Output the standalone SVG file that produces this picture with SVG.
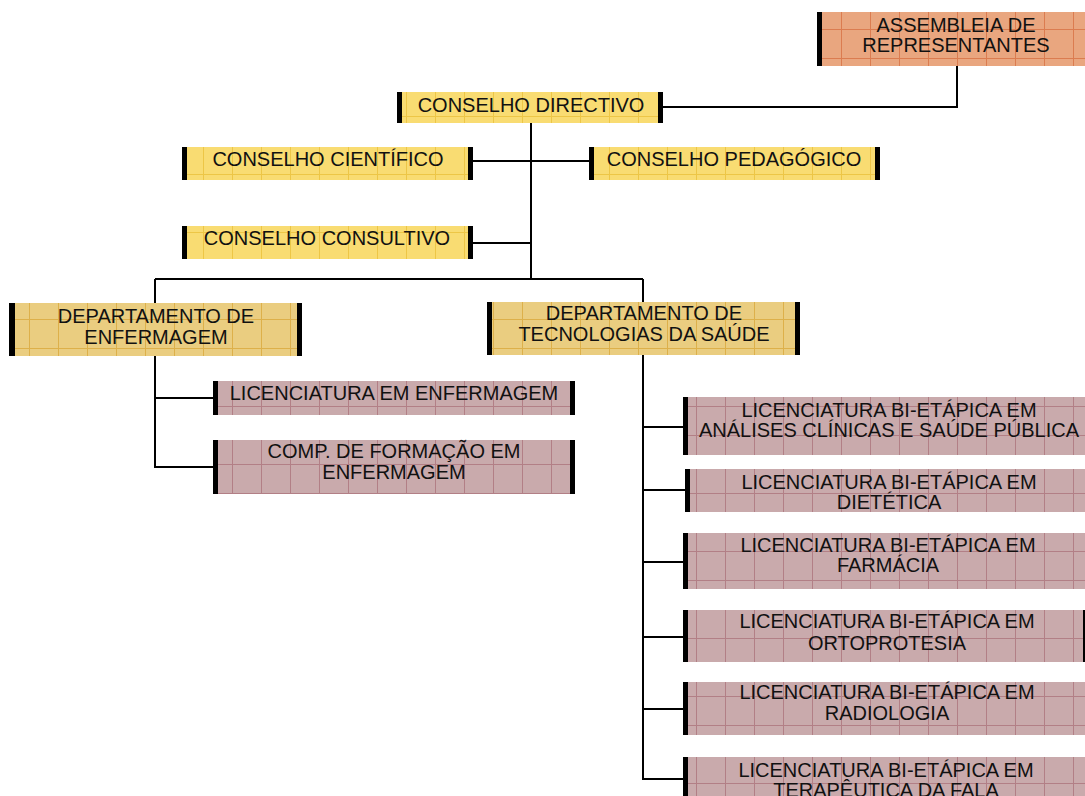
<svg xmlns="http://www.w3.org/2000/svg" width="1085" height="796" viewBox="0 0 1085 796">
<defs>
<pattern id="gy" patternUnits="userSpaceOnUse" width="29" height="29"><rect width="29" height="29" fill="#F9DC72"/><path d="M0 0.5H29M0.5 0V29" stroke="#EDC646" stroke-width="1"/></pattern>
<pattern id="gd" patternUnits="userSpaceOnUse" width="29" height="29"><rect width="29" height="29" fill="#EACD80"/><path d="M0 0.5H29M0.5 0V29" stroke="#DDB04A" stroke-width="1"/></pattern>
<pattern id="gp" patternUnits="userSpaceOnUse" width="29" height="29"><rect width="29" height="29" fill="#C9AAAC"/><path d="M0 0.5H29M0.5 0V29" stroke="#B27F86" stroke-width="1"/></pattern>
<pattern id="gs" patternUnits="userSpaceOnUse" width="29" height="29"><rect width="29" height="29" fill="#E9A67F"/><path d="M0 0.5H29M0.5 0V29" stroke="#DB7C50" stroke-width="1"/></pattern>
</defs>
<style>
text{font-family:"Liberation Sans",Arial,sans-serif;font-size:20px;fill:#111;text-anchor:middle}
.bar{fill:#000}
.c{fill:none;stroke:#000;stroke-width:2}
</style>
<rect width="1085" height="796" fill="#fff"/>
<g id="connectors">
<path class="c" d="M957 66V107H663"/>
<path class="c" d="M531 123V279"/>
<path class="c" d="M472 161H589"/>
<path class="c" d="M472 243H531"/>
<path class="c" d="M155 279H643M155 279V303M643 279V302"/>
<path class="c" d="M155 356V467H213M155 398H213"/>
<path class="c" d="M643 355V779H683M643 427H683M643 490H685M643 562H683M643 637H683M643 709H683"/>
</g>
<g id="assembleia">
<rect x="817" y="12" width="270" height="54" fill="url(#gs)"/>
<rect class="bar" x="817" y="12" width="5" height="54"/>
<text x="956" y="32">ASSEMBLEIA DE</text>
<text x="956" y="52">REPRESENTANTES</text>
</g>
<g id="conselho-directivo">
<rect x="397" y="92" width="266" height="31" fill="url(#gy)"/>
<rect class="bar" x="397" y="92" width="5" height="31"/>
<rect class="bar" x="658" y="92" width="5" height="31"/>
<text x="531" y="112">CONSELHO DIRECTIVO</text>
</g>
<g id="conselho-cientifico">
<rect x="182" y="147" width="291" height="33" fill="url(#gy)"/>
<rect class="bar" x="182" y="147" width="5" height="33"/>
<rect class="bar" x="468" y="147" width="5" height="33"/>
<text x="328" y="166">CONSELHO CIENTÍFICO</text>
</g>
<g id="conselho-pedagogico">
<rect x="589" y="147" width="291" height="33" fill="url(#gy)"/>
<rect class="bar" x="589" y="147" width="5" height="33"/>
<rect class="bar" x="875" y="147" width="5" height="33"/>
<text x="734" y="166">CONSELHO PEDAGÓGICO</text>
</g>
<g id="conselho-consultivo">
<rect x="182" y="226" width="291" height="33" fill="url(#gy)"/>
<rect class="bar" x="182" y="226" width="5" height="33"/>
<rect class="bar" x="468" y="226" width="5" height="33"/>
<text x="327" y="245">CONSELHO CONSULTIVO</text>
</g>
<g id="dep-enfermagem">
<rect x="9" y="303" width="293" height="53" fill="url(#gd)"/>
<rect class="bar" x="9" y="303" width="6" height="53"/>
<rect class="bar" x="297" y="303" width="5" height="53"/>
<text x="156" y="323">DEPARTAMENTO DE</text>
<text x="156" y="344">ENFERMAGEM</text>
</g>
<g id="dep-tecnologias">
<rect x="487" y="302" width="313" height="53" fill="url(#gd)"/>
<rect class="bar" x="487" y="302" width="5" height="53"/>
<rect class="bar" x="795" y="302" width="5" height="53"/>
<text x="644" y="320">DEPARTAMENTO DE</text>
<text x="644" y="341">TECNOLOGIAS DA SAÚDE</text>
</g>
<g id="lic-enfermagem">
<rect x="213" y="381" width="362" height="34" fill="url(#gp)"/>
<rect class="bar" x="213" y="381" width="5" height="34"/>
<rect class="bar" x="570" y="381" width="5" height="34"/>
<text x="394" y="400">LICENCIATURA EM ENFERMAGEM</text>
</g>
<g id="comp-formacao">
<rect x="213" y="440" width="362" height="54" fill="url(#gp)"/>
<rect class="bar" x="213" y="440" width="5" height="54"/>
<rect class="bar" x="570" y="440" width="5" height="54"/>
<text x="394" y="458">COMP. DE FORMAÇÃO EM</text>
<text x="394" y="479">ENFERMAGEM</text>
</g>
<g id="lic-analises">
<rect x="683" y="397" width="410" height="58" fill="url(#gp)"/>
<rect class="bar" x="683" y="397" width="5" height="58"/>
<text x="889" y="417">LICENCIATURA BI-ETÁPICA EM</text>
<text x="889" y="437">ANÁLISES CLÍNICAS E SAÚDE PÚBLICA</text>
</g>
<g id="lic-dietetica">
<rect x="685" y="469" width="410" height="43" fill="url(#gp)"/>
<rect class="bar" x="685" y="469" width="5" height="43"/>
<text x="889" y="489">LICENCIATURA BI-ETÁPICA EM</text>
<text x="889" y="509">DIETÉTICA</text>
</g>
<g id="lic-farmacia">
<rect x="683" y="533" width="410" height="56" fill="url(#gp)"/>
<rect class="bar" x="683" y="533" width="5" height="56"/>
<text x="888" y="552">LICENCIATURA BI-ETÁPICA EM</text>
<text x="888" y="572">FARMÁCIA</text>
</g>
<g id="lic-ortoprotesia">
<rect x="683" y="610" width="410" height="52" fill="url(#gp)"/>
<rect class="bar" x="683" y="610" width="5" height="52"/>
<rect class="bar" x="1083" y="610" width="2" height="52"/>
<text x="887" y="628">LICENCIATURA BI-ETÁPICA EM</text>
<text x="887" y="650">ORTOPROTESIA</text>
</g>
<g id="lic-radiologia">
<rect x="683" y="682" width="410" height="53" fill="url(#gp)"/>
<rect class="bar" x="683" y="682" width="5" height="53"/>
<text x="887" y="699">LICENCIATURA BI-ETÁPICA EM</text>
<text x="887" y="720">RADIOLOGIA</text>
</g>
<g id="lic-terapeutica">
<rect x="683" y="757" width="410" height="50" fill="url(#gp)"/>
<rect class="bar" x="683" y="757" width="5" height="50"/>
<text x="886" y="777">LICENCIATURA BI-ETÁPICA EM</text>
<text x="886" y="797">TERAPÊUTICA DA FALA</text>
</g>
</svg>
